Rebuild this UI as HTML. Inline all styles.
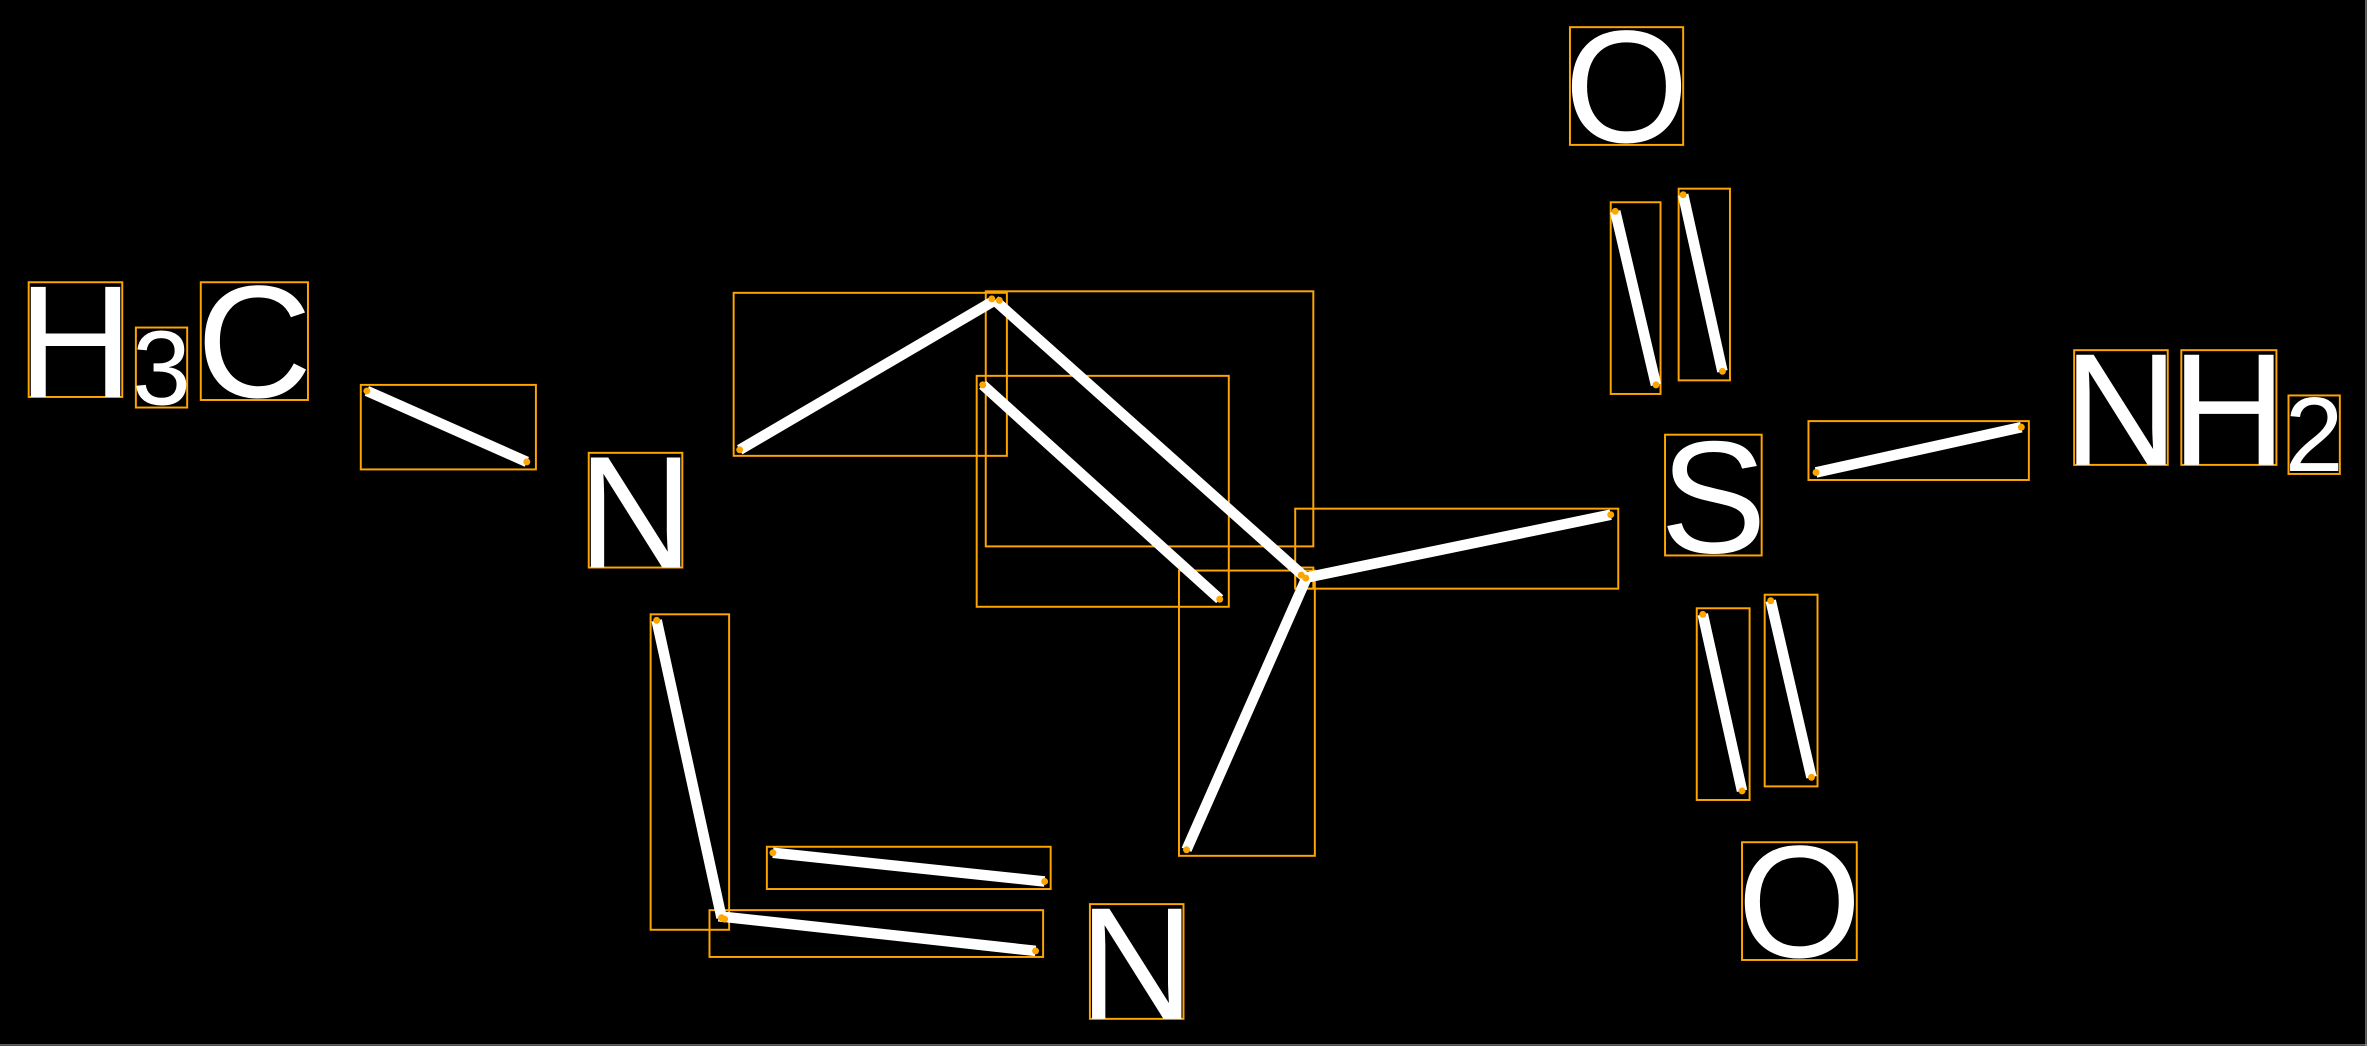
<!DOCTYPE html>
<html><head><meta charset="utf-8"><style>
html,body{margin:0;padding:0;background:#000;width:2367px;height:1046px;overflow:hidden}
svg{display:block}
text{font-family:"Liberation Sans",sans-serif;fill:#fff}
</style></head><body>
<svg width="2367" height="1046" viewBox="0 0 1568 693" preserveAspectRatio="none" xmlns="http://www.w3.org/2000/svg">
<rect x="0" y="0" width="1568" height="693" fill="#000"/>
<line x1="1567.3" y1="0" x2="1567.3" y2="693" stroke="#999" stroke-width="0.8"/>
<line x1="0" y1="692.3" x2="1568" y2="692.3" stroke="#999" stroke-width="0.8"/>
<g fill="none" stroke="#ffa500" stroke-width="1.3">
<rect x="19" y="187" width="62" height="76"/>
<rect x="90" y="217" width="34" height="53"/>
<rect x="133" y="187" width="71" height="78"/>
<rect x="239" y="255" width="116" height="56"/>
<rect x="390" y="300" width="62" height="76"/>
<rect x="486" y="194" width="181" height="108"/>
<rect x="653" y="193" width="217" height="169"/>
<rect x="647" y="249" width="167" height="153"/>
<rect x="858" y="337" width="214" height="53"/>
<rect x="781" y="378" width="90" height="189"/>
<rect x="858" y="376" width="12" height="14"/>
<rect x="431" y="407" width="52" height="209"/>
<rect x="508" y="561" width="188" height="28"/>
<rect x="470" y="603" width="221" height="31"/>
<rect x="722" y="599" width="62" height="76"/>
<rect x="1040" y="18" width="75" height="78"/>
<rect x="1067" y="134" width="33" height="127"/>
<rect x="1112" y="125" width="34" height="127"/>
<rect x="1103" y="288" width="64" height="80"/>
<rect x="1198" y="279" width="146" height="39"/>
<rect x="1374" y="232" width="62" height="76"/>
<rect x="1445" y="232" width="63" height="76"/>
<rect x="1516" y="262" width="34" height="52"/>
<rect x="1124" y="403" width="35" height="127"/>
<rect x="1169" y="394" width="35" height="127"/>
<rect x="1154" y="558" width="76" height="78"/>
</g>
<g stroke="#fff" stroke-width="7" stroke-linecap="butt">
<line x1="243" y1="259" x2="349" y2="306"/>
<line x1="490" y1="298" x2="659" y2="199"/>
<line x1="659" y1="199" x2="864" y2="382"/>
<line x1="651" y1="255" x2="808" y2="397"/>
<line x1="864" y1="383" x2="1067" y2="341"/>
<line x1="865" y1="384" x2="786" y2="563"/>
<line x1="435" y1="411" x2="478" y2="608"/>
<line x1="512" y1="565" x2="692" y2="584"/>
<line x1="476" y1="607" x2="686" y2="630"/>
<line x1="1070" y1="140" x2="1097" y2="255"/>
<line x1="1115" y1="129" x2="1141" y2="246"/>
<line x1="1203" y1="313" x2="1339" y2="283"/>
<line x1="1128" y1="407" x2="1154" y2="524"/>
<line x1="1173" y1="398" x2="1200" y2="515"/>
</g>
<g fill="#ffa500">
<circle cx="243" cy="259" r="2.3"/><circle cx="349" cy="306" r="2.3"/>
<circle cx="490" cy="298" r="2.3"/><circle cx="657" cy="198" r="2.3"/>
<circle cx="662" cy="199" r="2.3"/><circle cx="862" cy="381" r="2.3"/>
<circle cx="651" cy="255" r="2.3"/><circle cx="808" cy="397" r="2.3"/>
<circle cx="865" cy="383" r="2.3"/><circle cx="1067" cy="341" r="2.3"/>
<circle cx="786" cy="563" r="2.3"/>
<circle cx="435" cy="411" r="2.3"/><circle cx="478" cy="608" r="2.3"/>
<circle cx="512" cy="565" r="2.3"/><circle cx="692" cy="584" r="2.3"/>
<circle cx="480" cy="609" r="2.3"/><circle cx="686" cy="630" r="2.3"/>
<circle cx="1070" cy="140" r="2.3"/><circle cx="1097" cy="255" r="2.3"/>
<circle cx="1115" cy="129" r="2.3"/><circle cx="1141" cy="246" r="2.3"/>
<circle cx="1203" cy="313" r="2.3"/><circle cx="1339" cy="283" r="2.3"/>
<circle cx="1128" cy="407" r="2.3"/><circle cx="1154" cy="524" r="2.3"/>
<circle cx="1173" cy="398" r="2.3"/><circle cx="1200" cy="515" r="2.3"/>
</g>
<g font-size="106" text-anchor="middle">
<text x="50" y="263">H</text>
<text x="168.5" y="263">C</text>
<text x="421" y="376">N</text>
<text x="753" y="675">N</text>
<text x="1077.5" y="94">O</text>
<text x="1135" y="366">S</text>
<text x="1405" y="308">N</text>
<text x="1476.5" y="308">H</text>
<text x="1192" y="634">O</text>
</g>
<g font-size="70" text-anchor="middle">
<text x="107" y="268">3</text>
<text x="1533" y="312">2</text>
</g>
</svg>
</body></html>
